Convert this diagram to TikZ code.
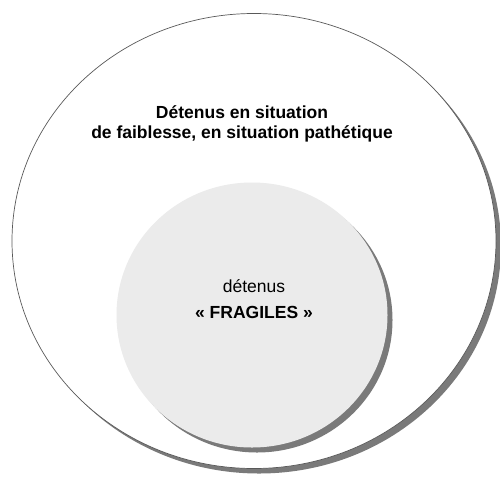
\documentclass[tikz,border=0pt]{standalone}
\usepackage{fontspec}
\setmainfont{Liberation Sans}
\usetikzlibrary{shapes.geometric, positioning, shadows}
\tikzset{
x=1pt, y=-1pt, % one unit is one pixel of the picture
zone/.style={ellipse, inner sep=0pt, drop shadow={shadow xshift=5pt, shadow yshift=-5pt, fill=black!52, opacity=1}}, % the sets
label text/.style={font=\fontsize{17.5}{19.5}\selectfont, align=center}, % the texts inside the sets
}
\begin{document}
\begin{tikzpicture}
                \useasboundingbox (0,0) rectangle (500,480);
                \node[zone, draw=black!65, line width=0.7pt, fill=white, minimum width=484pt, minimum height=455pt] (faiblesse) at (254,241) {};
                \node[zone, fill=black!8, minimum width=271pt, minimum height=265pt] (fragiles) at (252,315) {};
                \node[label text, font=\fontsize{17.5}{19.5}\selectfont\bfseries] (titre) at (242,124) {Détenus en situation\\de faiblesse, en situation pathétique};
                \node[label text] (detenus) at (254,286) {détenus};
                \node[label text, font=\fontsize{17.5}{19.5}\selectfont\bfseries, below=7pt of detenus] (mot) {« FRAGILES »};
                \end{tikzpicture}
\end{document}
